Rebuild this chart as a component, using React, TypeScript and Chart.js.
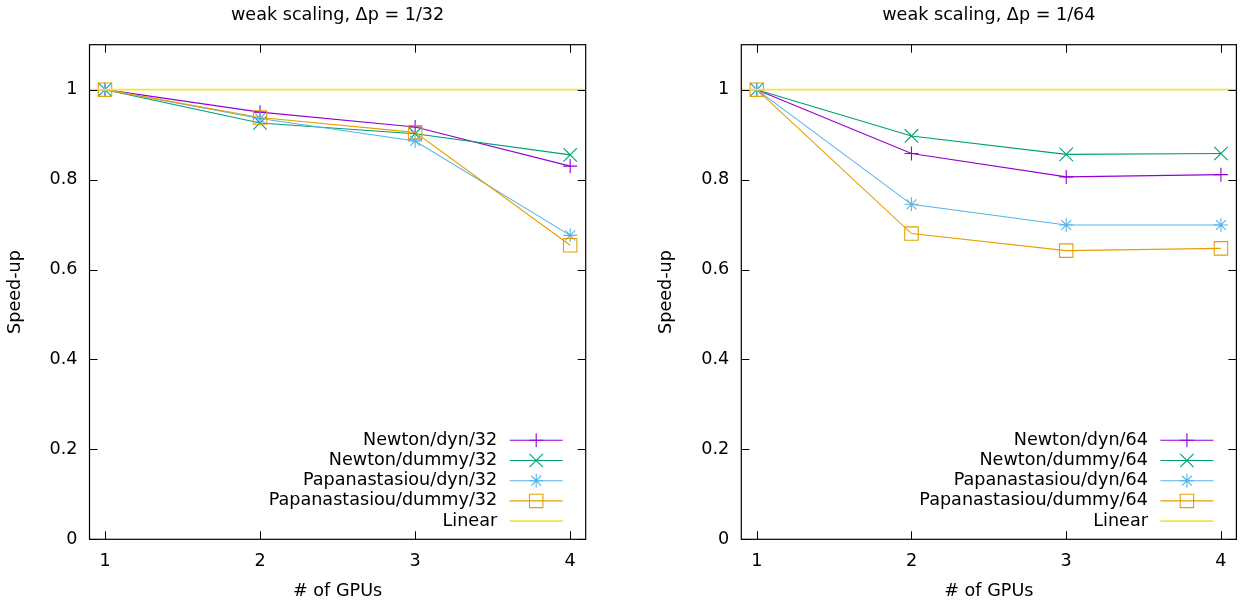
import React, { useEffect, useRef } from 'react';
import { Chart, registerables } from 'chart.js';
import { drawPoint } from 'chart.js/helpers';

Chart.register(...registerables);

// ---------- data ----------
const GPUS = [1, 2, 3, 4];
const X_TICKS = [1, 2, 3, 4];
const Y_TICKS = [0, 0.2, 0.4, 0.6, 0.8, 1];
const Y_TICK_LABELS = ['0', '0.2', '0.4', '0.6', '0.8', '1'];
const X_MIN = 0.9;
const X_MAX = 4.1;
const Y_MIN = 0;
const Y_MAX = 1.1;

const TITLE_32 = 'weak scaling, Δp = 1/32';
const TITLE_64 = 'weak scaling, Δp = 1/64';
const X_TITLE = '# of GPUs';
const Y_TITLE = 'Speed-up';

const LABELS_32 = ['Newton/dyn/32', 'Newton/dummy/32', 'Papanastasiou/dyn/32', 'Papanastasiou/dummy/32'];
const LABELS_64 = ['Newton/dyn/64', 'Newton/dummy/64', 'Papanastasiou/dyn/64', 'Papanastasiou/dummy/64'];
const LINEAR_LABEL = 'Linear';

const NEWTON_DYN_32 = [1, 0.95, 0.917, 0.83];
const NEWTON_DUMMY_32 = [1, 0.926, 0.902, 0.855];
const PAPA_DYN_32 = [1, 0.936, 0.886, 0.676];
const PAPA_DUMMY_32 = [1, 0.938, 0.905, 0.654];

const NEWTON_DYN_64 = [1, 0.858, 0.806, 0.811];
const NEWTON_DUMMY_64 = [1, 0.897, 0.856, 0.858];
const PAPA_DYN_64 = [1, 0.745, 0.699, 0.699];
const PAPA_DUMMY_64 = [1, 0.68, 0.642, 0.647];

const LINEAR_X = [X_MIN, X_MAX];
const LINEAR_Y = [1, 1];

// ---------- styles ----------
const COLORS = ['#9400d3', '#009e73', '#56b4e9', '#e69f00'];
const LINEAR_COLOR = '#f0e442';
const POINT_STYLES = ['cross', 'crossRot', 'star', 'rect'];
const POINT_RADII = [7, 9.5, 7, 9.5];
const FONT_FAMILY = "'DejaVu Sans', sans-serif";
const FONT_SIZE = 17.6;

type Panel = {
  title: string;
  labels: string[];
  series: number[][];
  left: number;
  width: number;
  axisWidth: number;
  rightPad: number;
};

const PANELS: Panel[] = [
  {
    title: TITLE_32,
    labels: LABELS_32,
    series: [NEWTON_DYN_32, NEWTON_DUMMY_32, PAPA_DYN_32, PAPA_DUMMY_32],
    left: 0,
    width: 620,
    axisWidth: 89.5,
    rightPad: 34.3,
  },
  {
    title: TITLE_64,
    labels: LABELS_64,
    series: [NEWTON_DYN_64, NEWTON_DUMMY_64, PAPA_DYN_64, PAPA_DUMMY_64],
    left: 620,
    width: 627,
    axisWidth: 121.3,
    rightPad: 9.3,
  },
];

const HEIGHT = 605;
const TOP_PAD = 44.7;
const X_AXIS_HEIGHT = 65.7;
const TICK_LEN = 8;

function makePlugin(title: string) {
  return {
    id: 'gnuplotDecor',
    afterDraw(chart: any) {
      const ctx: CanvasRenderingContext2D = chart.ctx;
      const { left, right, top, bottom } = chart.chartArea;
      const xs = chart.scales.x;
      const ys = chart.scales.y;
      ctx.save();
      // border
      ctx.strokeStyle = '#000';
      ctx.lineWidth = 1.2;
      ctx.strokeRect(left, top, right - left, bottom - top);
      // inward ticks
      ctx.lineWidth = 1;
      ctx.beginPath();
      X_TICKS.forEach((v) => {
        const px = Math.round(xs.getPixelForValue(v)) + 0.5;
        ctx.moveTo(px, bottom);
        ctx.lineTo(px, bottom - TICK_LEN);
        ctx.moveTo(px, top);
        ctx.lineTo(px, top + TICK_LEN);
      });
      Y_TICKS.forEach((v) => {
        const py = Math.round(ys.getPixelForValue(v)) + 0.5;
        ctx.moveTo(left, py);
        ctx.lineTo(left + TICK_LEN, py);
        ctx.moveTo(right, py);
        ctx.lineTo(right - TICK_LEN, py);
      });
      ctx.stroke();

      // texts
      ctx.fillStyle = '#000';
      ctx.font = `${FONT_SIZE}px ${FONT_FAMILY}`;
      ctx.textAlign = 'center';
      ctx.textBaseline = 'middle';
      const cx = (left + right) / 2;
      ctx.fillText(title, cx, 15.5);
      ctx.fillText(X_TITLE, cx, 591);
      ctx.save();
      ctx.translate(left - 74.5, (top + bottom) / 2);
      ctx.rotate(-Math.PI / 2);
      ctx.fillText(Y_TITLE, 0, 0);
      ctx.restore();

      // legend
      const datasets = chart.data.datasets;
      datasets.forEach((ds: any, i: number) => {
        const y = bottom - 99 + i * 20.2;
        ctx.fillStyle = '#000';
        ctx.textAlign = 'right';
        ctx.fillText(ds.label, right - 88.5, y);
        ctx.strokeStyle = ds.borderColor;
        ctx.lineWidth = ds.borderWidth;
        ctx.beginPath();
        ctx.moveTo(right - 76, y);
        ctx.lineTo(right - 23, y);
        ctx.stroke();
        if (ds.pointRadius > 0) {
          ctx.strokeStyle = ds.borderColor;
          ctx.fillStyle = 'rgba(0,0,0,0)';
          ctx.lineWidth = ds.pointBorderWidth;
          drawPoint(ctx, { pointStyle: ds.pointStyle, radius: ds.pointRadius, rotation: 0, borderWidth: ds.pointBorderWidth } as any, right - 49.5, y);
        }
      });
      ctx.restore();
    },
  };
}

function buildConfig(p: Panel): any {
  const datasets: any[] = p.series.map((vals, i) => ({
    label: p.labels[i],
    data: GPUS.map((g, j) => ({ x: g, y: vals[j] })),
    borderColor: COLORS[i],
    backgroundColor: 'rgba(0,0,0,0)',
    borderWidth: 1.1,
    pointStyle: POINT_STYLES[i],
    pointRadius: POINT_RADII[i],
    pointBorderWidth: 1.1,
    pointBorderColor: COLORS[i],
    pointBackgroundColor: 'rgba(0,0,0,0)',
    pointHoverRadius: POINT_RADII[i],
    tension: 0,
    fill: false,
    order: 10 - i,
  }));
  datasets.push({
    label: LINEAR_LABEL,
    data: LINEAR_X.map((x, j) => ({ x, y: LINEAR_Y[j] })),
    borderColor: LINEAR_COLOR,
    backgroundColor: 'rgba(0,0,0,0)',
    borderWidth: 1.6,
    pointRadius: 0,
    pointBorderWidth: 0,
    tension: 0,
    fill: false,
    order: 0,
  });

  const tickFont = { family: FONT_FAMILY, size: FONT_SIZE };
  return {
    type: 'line',
    data: { datasets },
    plugins: [makePlugin(p.title)],
    options: {
      responsive: false,
      animation: false,
      devicePixelRatio: 1,
      layout: { padding: { left: 0, top: TOP_PAD, right: p.rightPad, bottom: 0 } },
      plugins: {
        legend: { display: false },
        title: { display: false },
        tooltip: { enabled: false },
      },
      events: [],
      scales: {
        x: {
          type: 'linear',
          min: X_MIN,
          max: X_MAX,
          grid: { display: false, drawTicks: false },
          border: { display: false },
          afterBuildTicks: (s: any) => {
            s.ticks = X_TICKS.map((v) => ({ value: v }));
          },
          afterFit: (s: any) => {
            s.height = X_AXIS_HEIGHT;
          },
          ticks: {
            font: tickFont,
            color: '#000',
            padding: 12,
            maxRotation: 0,
            autoSkip: false,
            callback: (v: number) => String(v),
          },
        },
        y: {
          type: 'linear',
          min: Y_MIN,
          max: Y_MAX,
          grid: { display: false, drawTicks: false },
          border: { display: false },
          afterBuildTicks: (s: any) => {
            s.ticks = Y_TICKS.map((v) => ({ value: v }));
          },
          afterFit: (s: any) => {
            s.width = p.axisWidth;
          },
          ticks: {
            font: tickFont,
            color: '#000',
            padding: 12,
            autoSkip: false,
            callback: (_v: number, idx: number) => Y_TICK_LABELS[idx],
          },
        },
      },
    },
  };
}

function ChartPanel({ panel }: { panel: Panel }) {
  const ref = useRef<HTMLCanvasElement | null>(null);
  useEffect(() => {
    if (!ref.current) return;
    const chart = new Chart(ref.current, buildConfig(panel));
    return () => chart.destroy();
  }, [panel]);
  return (
    <canvas
      ref={ref}
      width={panel.width}
      height={HEIGHT}
      style={{ position: 'absolute', left: panel.left, top: 0, width: panel.width, height: HEIGHT, display: 'block' }}
    />
  );
}

export default function App() {
  return (
    <div style={{ position: 'absolute', left: 0, top: 0, width: 1247, height: HEIGHT, background: '#fff' }}>
      {PANELS.map((p, i) => (
        <ChartPanel key={i} panel={p} />
      ))}
    </div>
  );
}
